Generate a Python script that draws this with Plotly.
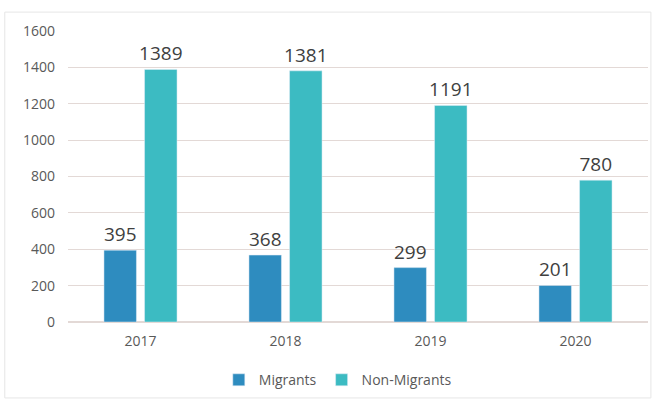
import plotly.graph_objects as go

years = ["2017", "2018", "2019", "2020"]
migrants = [395, 368, 299, 201]
non_migrants = [1389, 1381, 1191, 780]

font_family = "Open Sans, Liberation Sans, sans-serif"
label_font = dict(family=font_family, size=19, color="#404040")

fig = go.Figure(
    data=[
        go.Bar(x=years, y=migrants, name="Migrants", marker_color="#2E8CBF",
               text=migrants, textposition="outside", textfont=label_font,
               constraintext="none", cliponaxis=False),
        go.Bar(x=years, y=non_migrants, name="Non-Migrants", marker_color="#3CBBC2",
               text=non_migrants, textposition="outside", textfont=label_font,
               constraintext="none", cliponaxis=False),
    ]
)

fig.update_layout(
    width=655, height=400,
    margin=dict(l=68, r=7, t=31, b=78, autoexpand=False),
    paper_bgcolor="white", plot_bgcolor="white",
    barmode="group", bargap=0.44, bargroupgap=0.2,
    font=dict(family=font_family, size=13, color="#595959"),
    legend=dict(orientation="h", x=0.26, xanchor="left", y=-0.2, yanchor="middle",
                itemwidth=30, font=dict(size=14, color="#595959")),
    showlegend=True,
)
fig.update_yaxes(range=[0, 1600], dtick=200, showgrid=True, gridcolor="#E3D9D6",
                 zeroline=True, zerolinecolor="#E3D9D6", tickfont=dict(size=14),
                 ticks="", ticklabelstandoff=12)
fig.update_xaxes(showline=False, tickfont=dict(size=14), ticks="", ticklabelstandoff=9)

# light frame around the chart
fig.add_shape(type="rect", xref="paper", yref="paper",
              x0=-0.109, x1=1.005, y0=-0.261, y1=1.065,
              line=dict(color="#E6E6E6", width=1), layer="below")

fig.write_html("out.html", config={"displayModeBar": False},
               post_script="document.body.style.margin='0';")
